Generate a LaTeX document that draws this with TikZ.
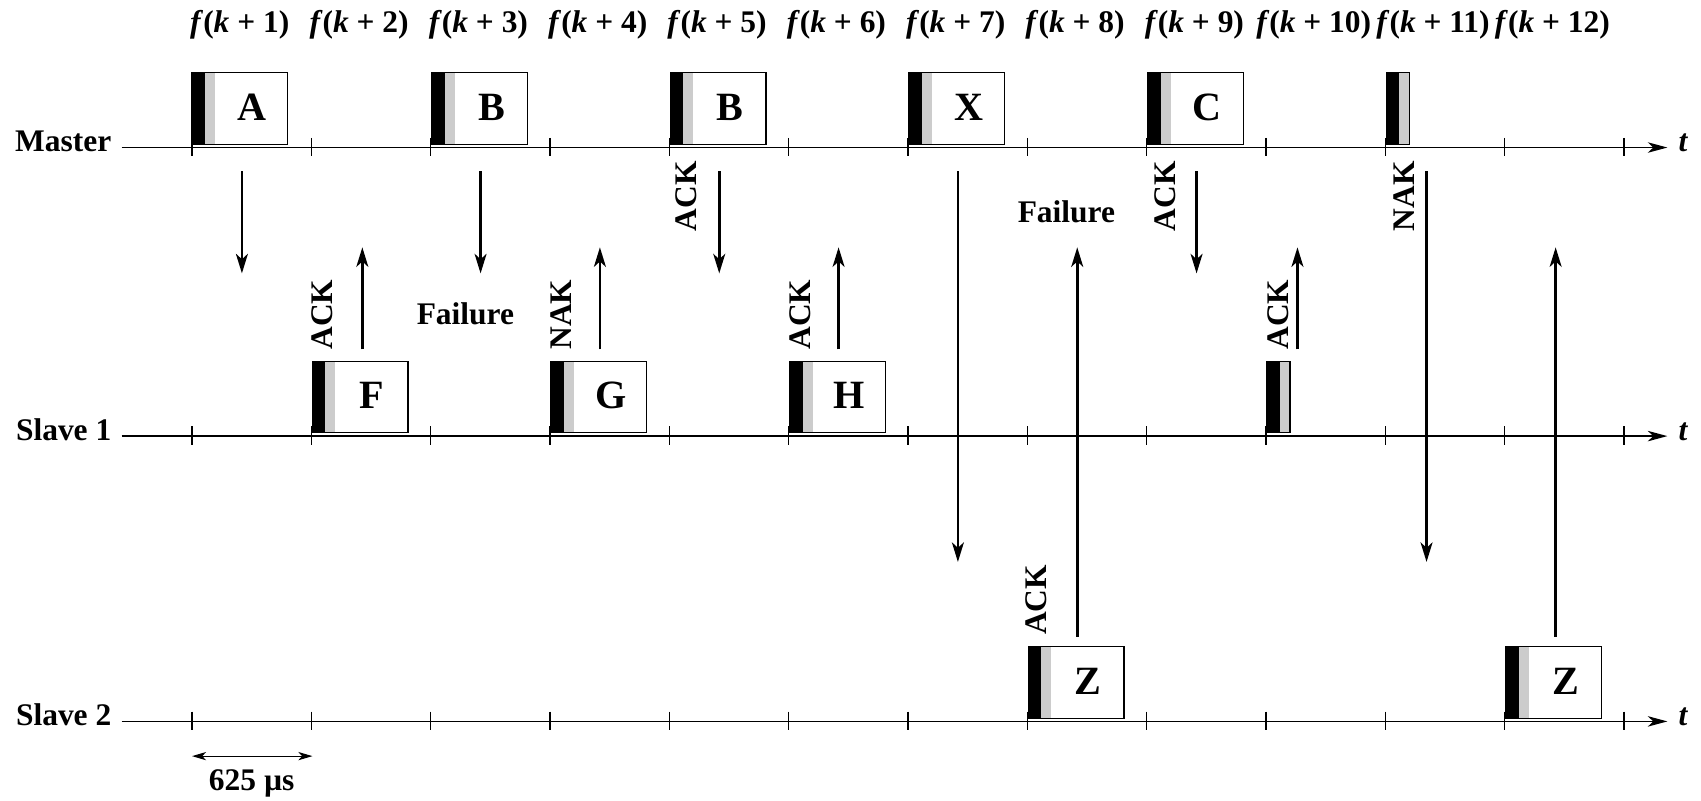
\documentclass[tikz,border=0pt]{standalone}
\usepackage{fontspec}
\setmainfont{Liberation Serif}
\usetikzlibrary{arrows.meta}
\newcommand\mypkt[4]{%
  \fill[black] (#2,#3-69) rectangle (#2+12,#3-3);
  \fill[gray!40] (#2+12,#3-69) rectangle (#2+21,#3-3);
  \draw[line width=0.6pt] (#2,#3-69) rectangle (#2+88,#3-3);
  \node[biglab,anchor=base] (#1) at (#2+55,#3-25) {#4};
}
\newcommand\myshort[3]{%
  \fill[black] (#2,#3-69) rectangle (#2+12,#3-3);
  \fill[gray!40] (#2+12,#3-69) rectangle (#2+21,#3-3);
  \draw[line width=0.6pt] (#2,#3-69) rectangle (#2+21,#3-3);
  \coordinate (#1) at (#2+10,#3-36);
}
\begin{document}
\begin{tikzpicture}[x=0.5pt,y=-0.5pt,
  lab/.style={font=\fontsize{14.5}{16}\selectfont\bfseries, inner sep=0pt},
  biglab/.style={font=\fontsize{18.5}{20}\selectfont\bfseries, inner sep=0pt},
  axisline/.style={line width=0.75pt, -{Stealth[length=9pt,width=4.8pt,inset=2.5pt]}},
  msg/.style={line width=1.2pt, -{Stealth[length=9pt,width=5.5pt,inset=2.5pt]}},
  tickmark/.style={line width=0.65pt},
  dim/.style={line width=0.55pt, {Stealth[length=6.5pt,width=3.8pt,inset=1.8pt]}-{Stealth[length=6.5pt,width=3.8pt,inset=1.8pt]}},
  rlab/.style={lab, rotate=90, anchor=center}
]
\useasboundingbox (0,0) rectangle (1568,738);
% time lines
\foreach \ly/\nm/\txt in {136/m/Master, 402/sa/Slave 1, 665/sb/Slave 2}{
  \node[lab, anchor=base east] (\nm-lbl) at (103,\ly+4) {\txt};
  \coordinate (\nm-start) at (112,\ly);
  \coordinate (\nm-end) at (1537,\ly);
  \draw[axisline] (\nm-start) -- (\nm-end);
  \node[lab, anchor=base west, font=\fontsize{14.5}{16}\selectfont\bfseries\itshape] (\nm-t) at (1547,\ly+4) {t};
  \foreach \k in {0,...,12}{
    \draw[tickmark] (177+110*\k,\ly-9) -- (177+110*\k,\ly+8);
  }
}
% slot labels
\foreach \k in {1,...,12}{
  \node[lab, anchor=base] (f\k) at (177+110*\k-110+44,30) {\textit{f}(\textit{k} + \k)};
}
% packets
\mypkt{pA}{177}{136}{A}
\mypkt{pB1}{398}{136}{B}
\mypkt{pB2}{618}{136}{B}
\mypkt{pX}{838}{136}{X}
\mypkt{pC}{1058}{136}{C}
\myshort{pM}{1278}{136}
\mypkt{pF}{288}{402}{F}
\mypkt{pG}{508}{402}{G}
\mypkt{pH}{728}{402}{H}
\myshort{pS}{1168}{402}
\mypkt{pZ1}{948}{665}{Z}
\mypkt{pZ2}{1388}{665}{Z}
% message arrows
\foreach \i/\x/\ya/\yb in {1/223/158/252, 2/334/322/228, 3/443/158/252, 4/553/322/228,
  5/663/158/252, 6/773/322/228, 7/883/158/518, 8/993/587/228, 9/1103/158/252,
  10/1196/322/228, 11/1315/158/518, 12/1434/587/228}{
  \coordinate (s\i) at (\x,\ya);
  \coordinate (e\i) at (\x,\yb);
  \draw[msg] (s\i) -- (e\i);
}
% labels
\node[rlab] (ack1) at (297,290) {ACK};
\node[rlab] (nak1) at (517,290) {NAK};
\node[rlab] (ack2) at (633,181) {ACK};
\node[rlab] (ack3) at (738,290) {ACK};
\node[rlab] (ack4) at (955,553) {ACK};
\node[rlab] (ack5) at (1074,181) {ACK};
\node[rlab] (ack6) at (1178,290) {ACK};
\node[rlab] (nak2) at (1294,181) {NAK};
\node[lab] (fail1) at (429,289) {Failure};
\node[lab] (fail2) at (983,195) {Failure};
% dimension
\coordinate (d1) at (177,697);
\coordinate (d2) at (288,697);
\draw[dim] (d1) -- (d2);
\node[lab, anchor=base] (dimlbl) at (232,729) {625 µs};
\end{tikzpicture}
\end{document}
